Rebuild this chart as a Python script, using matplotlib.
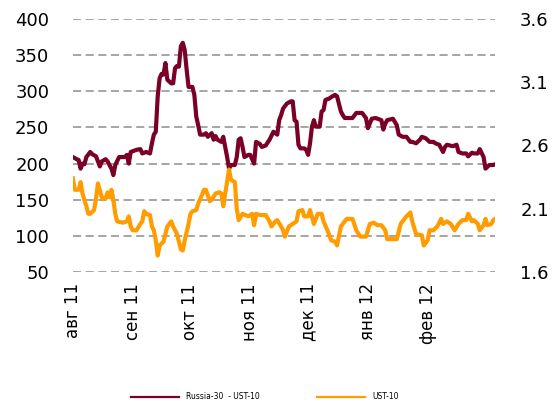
import pandas as pd
import matplotlib
matplotlib.use("Agg")
import matplotlib.pyplot as plt

# спред Russia-30 - UST-10, б.п. (левая ось)
spread_dates = [
    "2011-08-01", "2011-08-03", "2011-08-04", "2011-08-05", "2011-08-06", "2011-08-07",
    "2011-08-08", "2011-08-10", "2011-08-11", "2011-08-13", "2011-08-15", "2011-08-16",
    "2011-08-18", "2011-08-19", "2011-08-21", "2011-08-22", "2011-08-23", "2011-08-25",
    "2011-08-28", "2011-08-29", "2011-08-30", "2011-08-31", "2011-09-03", "2011-09-05",
    "2011-09-06", "2011-09-08", "2011-09-10", "2011-09-11", "2011-09-12", "2011-09-13",
    "2011-09-14", "2011-09-15", "2011-09-16", "2011-09-17", "2011-09-18", "2011-09-19",
    "2011-09-21", "2011-09-22", "2011-09-23", "2011-09-24", "2011-09-25", "2011-09-26",
    "2011-09-27", "2011-09-28", "2011-09-29", "2011-09-30", "2011-10-02", "2011-10-03",
    "2011-10-04", "2011-10-05", "2011-10-06", "2011-10-08", "2011-10-09", "2011-10-10",
    "2011-10-12", "2011-10-13", "2011-10-14", "2011-10-15", "2011-10-17", "2011-10-18",
    "2011-10-19", "2011-10-20", "2011-10-21", "2011-10-22", "2011-10-24", "2011-10-25",
    "2011-10-26", "2011-10-27", "2011-10-28", "2011-10-29", "2011-10-31", "2011-11-01",
    "2011-11-03", "2011-11-04", "2011-11-06", "2011-11-07", "2011-11-09", "2011-11-11",
    "2011-11-13", "2011-11-14", "2011-11-15", "2011-11-16", "2011-11-17", "2011-11-18",
    "2011-11-20", "2011-11-22", "2011-11-23", "2011-11-24", "2011-11-25", "2011-11-26",
    "2011-11-27", "2011-11-29", "2011-11-30", "2011-12-01", "2011-12-02", "2011-12-03",
    "2011-12-04", "2011-12-05", "2011-12-07", "2011-12-08", "2011-12-09", "2011-12-10",
    "2011-12-12", "2011-12-13", "2011-12-15", "2011-12-16", "2011-12-18", "2011-12-19",
    "2011-12-20", "2011-12-24", "2011-12-26", "2011-12-29", "2011-12-31", "2012-01-01",
    "2012-01-03", "2012-01-05", "2012-01-08", "2012-01-09", "2012-01-10", "2012-01-11",
    "2012-01-14", "2012-01-16", "2012-01-17", "2012-01-19", "2012-01-21", "2012-01-23",
    "2012-01-24", "2012-01-26", "2012-01-28", "2012-01-29", "2012-01-31", "2012-02-02",
    "2012-02-04", "2012-02-05", "2012-02-07", "2012-02-09", "2012-02-10", "2012-02-11",
    "2012-02-14", "2012-02-16", "2012-02-17", "2012-02-19", "2012-02-21", "2012-02-22",
    "2012-02-24", "2012-02-25", "2012-02-27", "2012-02-28", "2012-03-01", "2012-03-02",
    "2012-03-04", "2012-03-06", "2012-03-07",
]
spread = [
    209, 206, 205, 193, 200, 199,
    209, 216, 213, 210, 196, 203,
    206, 203, 193, 184, 198, 209,
    209, 212, 200, 216, 219, 220,
    214, 216, 214, 228, 240, 244,
    293, 318, 324, 323, 339, 316,
    311, 311, 332, 335, 334, 362,
    367, 357, 330, 306, 306, 295,
    265, 253, 240, 240, 242, 237,
    242, 233, 238, 233, 230, 237,
    223, 209, 193, 198, 198, 209,
    233, 235, 223, 209, 212, 212,
    200, 230, 227, 223, 225, 233,
    244, 242, 240, 260, 267, 276,
    283, 286, 286, 260, 258, 226,
    221, 221, 219, 212, 228, 251,
    260, 251, 251, 272, 274, 288,
    290, 292, 295, 293, 272, 267,
    263, 263, 270, 270, 263, 249,
    262, 263, 260, 247, 255, 260,
    262, 253, 240, 237, 237, 230,
    230, 228, 233, 237, 235, 230,
    230, 228, 226, 216, 223, 226,
    224, 226, 216, 214, 214, 210,
    215, 214, 214, 220, 209, 193,
    198, 198, 199,
]

# доходность UST-10, % (правая ось)
ust_dates = [
    "2011-08-01", "2011-08-02", "2011-08-04", "2011-08-05", "2011-08-06", "2011-08-08",
    "2011-08-09", "2011-08-10", "2011-08-12", "2011-08-13", "2011-08-14", "2011-08-16",
    "2011-08-17", "2011-08-18", "2011-08-19", "2011-08-20", "2011-08-21", "2011-08-22",
    "2011-08-23", "2011-08-24", "2011-08-27", "2011-08-29", "2011-08-30", "2011-08-31",
    "2011-09-01", "2011-09-03", "2011-09-05", "2011-09-06", "2011-09-07", "2011-09-08",
    "2011-09-10", "2011-09-11", "2011-09-12", "2011-09-13", "2011-09-14", "2011-09-15",
    "2011-09-17", "2011-09-18", "2011-09-19", "2011-09-21", "2011-09-22", "2011-09-23",
    "2011-09-24", "2011-09-26", "2011-09-27", "2011-09-28", "2011-09-30", "2011-10-01",
    "2011-10-02", "2011-10-04", "2011-10-05", "2011-10-07", "2011-10-08", "2011-10-09",
    "2011-10-11", "2011-10-12", "2011-10-14", "2011-10-16", "2011-10-17", "2011-10-18",
    "2011-10-19", "2011-10-21", "2011-10-22", "2011-10-24", "2011-10-25", "2011-10-26",
    "2011-10-28", "2011-10-31", "2011-11-02", "2011-11-03", "2011-11-04", "2011-11-06",
    "2011-11-09", "2011-11-11", "2011-11-12", "2011-11-14", "2011-11-15", "2011-11-17",
    "2011-11-18", "2011-11-19", "2011-11-21", "2011-11-23", "2011-11-25", "2011-11-26",
    "2011-11-28", "2011-11-29", "2011-12-01", "2011-12-02", "2011-12-04", "2011-12-06",
    "2011-12-08", "2011-12-09", "2011-12-11", "2011-12-13", "2011-12-15", "2011-12-16",
    "2011-12-18", "2011-12-19", "2011-12-21", "2011-12-24", "2011-12-26", "2011-12-28",
    "2011-12-31", "2012-01-02", "2012-01-04", "2012-01-06", "2012-01-08", "2012-01-10",
    "2012-01-11", "2012-01-16", "2012-01-18", "2012-01-21", "2012-01-23", "2012-01-24",
    "2012-01-26", "2012-01-29", "2012-01-30", "2012-02-01", "2012-02-02", "2012-02-04",
    "2012-02-06", "2012-02-08", "2012-02-09", "2012-02-11", "2012-02-13", "2012-02-15",
    "2012-02-17", "2012-02-19", "2012-02-21", "2012-02-22", "2012-02-24", "2012-02-25",
    "2012-02-27", "2012-02-28", "2012-03-01", "2012-03-02", "2012-03-03", "2012-03-05",
    "2012-03-06", "2012-03-07",
]
ust10 = [
    2.34, 2.25, 2.25, 2.31, 2.22, 2.12,
    2.06, 2.06, 2.09, 2.18, 2.30, 2.19,
    2.18, 2.18, 2.23, 2.19, 2.25, 2.17,
    2.06, 2.00, 1.99, 2.00, 2.04, 1.96,
    1.93, 1.93, 1.98, 2.00, 2.08, 2.06,
    2.05, 1.96, 1.93, 1.85, 1.73, 1.81,
    1.84, 1.90, 1.96, 2.00, 1.96, 1.93,
    1.90, 1.78, 1.77, 1.85, 1.98, 2.06,
    2.08, 2.09, 2.14, 2.21, 2.25, 2.25,
    2.16, 2.17, 2.22, 2.23, 2.22, 2.12,
    2.22, 2.41, 2.33, 2.31, 2.10, 2.01,
    2.06, 2.04, 2.06, 1.97, 2.06, 2.05,
    2.05, 2.00, 1.96, 2.00, 2.01, 1.96,
    1.93, 1.88, 1.96, 1.98, 2.00, 2.08,
    2.09, 2.04, 2.04, 2.09, 1.98, 2.06,
    2.06, 2.00, 1.93, 1.85, 1.84, 1.81,
    1.96, 1.98, 2.02, 2.02, 1.93, 1.88,
    1.88, 1.98, 1.99, 1.97, 1.97, 1.93,
    1.86, 1.86, 1.98, 2.04, 2.07, 2.00,
    1.90, 1.89, 1.81, 1.85, 1.93, 1.93,
    1.96, 2.02, 1.98, 2.00, 1.98, 1.93,
    1.98, 2.01, 2.01, 2.06, 2.00, 2.01,
    1.98, 1.93, 1.97, 2.02, 1.97, 1.98,
    2.01, 2.02,
]

month_starts = ["2011-08-01", "2011-09-01", "2011-10-01", "2011-11-01",
                "2011-12-01", "2012-01-01", "2012-02-01"]
month_labels = ["авг 11", "сен 11", "окт 11", "ноя 11", "дек 11", "янв 12", "фев 12"]

left_ticks = [50, 100, 150, 200, 250, 300, 350, 400]
right_ticks = [1.6, 2.1, 2.6, 3.1, 3.6]

maroon = "#7a0026"
orange = "#ff9c00"

sx = pd.to_datetime(spread_dates)
ux = pd.to_datetime(ust_dates)

fig = plt.figure(figsize=(5.52, 4.03), dpi=100)
ax = fig.add_axes([0.132, 0.325, 0.765, 0.628])
ax2 = ax.twinx()

ax.plot(sx, spread, color=maroon, lw=3.0, solid_joinstyle="round", label="Russia-30  - UST-10")
ax2.plot(ux, ust10, color=orange, lw=3.0, solid_joinstyle="round", label="UST-10")

ax.set_ylim(50, 400)
ax2.set_ylim(1.6, 3.6)
ax.set_yticks(left_ticks)
ax2.set_yticks(right_ticks)
ax2.set_yticklabels([f"{v:.1f}" for v in right_ticks])
ax.set_xlim(sx[0], sx[-1])

ax.set_xticks(pd.to_datetime(month_starts))
ax.set_xticklabels(month_labels, rotation=90, fontsize=12, va="top", ha="center")

ax.grid(axis="y", color="#9e9e9e", lw=1.3, linestyle=(0, (4.5, 2.5)))
ax.set_axisbelow(True)

for a in (ax, ax2):
    for s in a.spines.values():
        s.set_visible(False)
    a.tick_params(length=0)
ax.tick_params(axis="y", labelsize=13, pad=17)
ax.tick_params(axis="x", pad=8)
ax2.tick_params(axis="y", labelsize=13, pad=18)

h1, l1 = ax.get_legend_handles_labels()
h2, l2 = ax2.get_legend_handles_labels()
leg = fig.legend(h1 + h2, l1 + l2, loc="center", bbox_to_anchor=(0.48, 0.015),
                 ncol=2, frameon=False, fontsize=5.5, handlelength=6.3,
                 handletextpad=0.9, columnspacing=7.5)
for ln in leg.get_lines():
    ln.set_linewidth(1.6)

fig.savefig("out.png", dpi=100)
